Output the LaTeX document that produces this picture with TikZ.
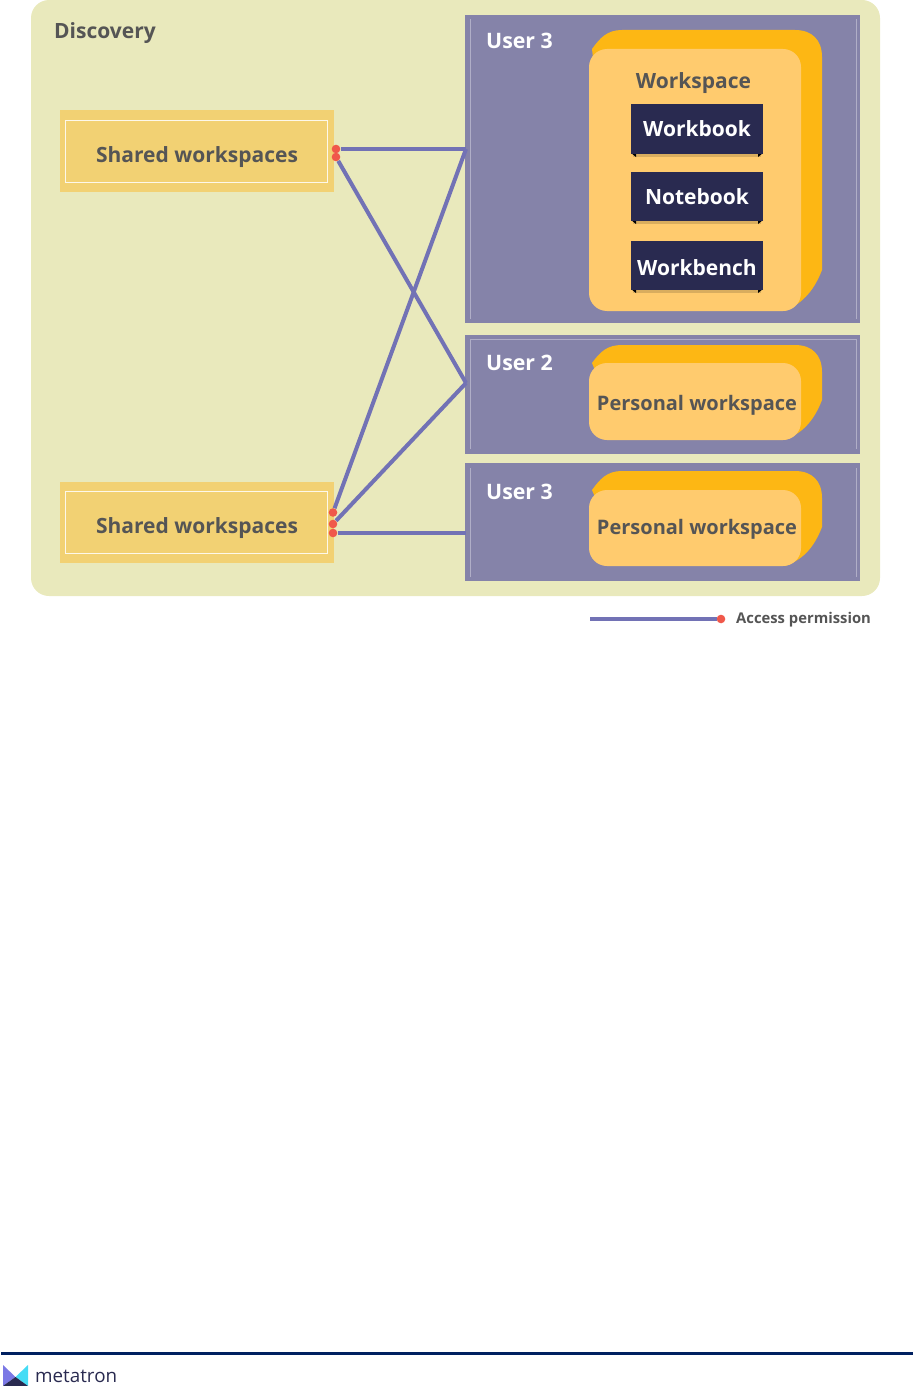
\documentclass[tikz,border=0pt]{standalone}
\usepackage{fontspec}
\setmainfont{Open Sans}
\usetikzlibrary{positioning,calc}
\definecolor{discoverybg}{HTML}{E9E9BC}
\definecolor{sharedbg}{HTML}{F2D173}
\definecolor{userbg}{HTML}{8583A9}
\definecolor{backbg}{HTML}{FDB714}
\definecolor{frontbg}{HTML}{FFCB6E}
\definecolor{itembg}{HTML}{292A50}
\definecolor{linkcol}{HTML}{7272B5}
\definecolor{dotcol}{HTML}{F0584A}
\definecolor{labelcol}{HTML}{555555}
\definecolor{rulecol}{HTML}{002060}
\definecolor{logoleft}{HTML}{7B78E5}
\definecolor{logoright}{HTML}{45DCF5}

\begin{document}
\begin{tikzpicture}[x=1pt, y=-1pt,
          boldtxt/.style={inner sep=0pt, text=labelcol, font=\fontsize{21}{25}\selectfont\bfseries},
          sharedbox/.style={fill=sharedbg, minimum width=274pt, minimum height=81pt, inner sep=0pt},
          userbox/.style={fill=userbg, minimum width=395pt, inner sep=0pt},
          itembox/.style={fill=itembg, minimum width=132pt, inner sep=0pt, text=white, font=\fontsize{21}{25}\selectfont\bfseries},
          frontbox/.style={fill=frontbg, rounded corners=18pt, minimum width=212pt, inner sep=0pt},
          userlabel/.style={text=white, anchor=west, inner sep=0pt, font=\fontsize{21.3}{25}\selectfont\bfseries},
          trim/.style={white!35!userbg, line width=0.8pt},
          sharedtrim/.style={white!85!sharedbg, line width=1pt},
          link/.style={draw=linkcol, line width=4pt},
          dot/.style={circle, fill=dotcol, minimum size=8.6pt, inner sep=0pt}]
        \useasboundingbox (0,0) rectangle (913,1386);
        % background
        \node[fill=discoverybg, rounded corners=18pt, minimum width=849pt, minimum height=596pt, inner sep=0pt] (discovery) at (455.5,298) {};
        \node[boldtxt, anchor=west] (discoverytxt) at (54,33) {Discovery};
        % shared workspaces
        \node[sharedbox] (shareda) at (197,151) {};
        \node[sharedbox] (sharedb) at (197,522.5) {};
        \draw[sharedtrim] (65.5,120.5) rectangle (327.5,182);
        \draw[sharedtrim] (65.5,491) rectangle (327.5,553);
        \node[boldtxt] (sharedatxt) at (197,157.5) {Shared workspaces};
        \node[boldtxt] (sharedbtxt) at (197,528.5) {Shared workspaces};
        % users
        \node[userbox, minimum height=308pt] (usera) at (662.5,169) {};
        \node[userbox, minimum height=119pt] (userb) at (662.5,394.5) {};
        \node[userbox, minimum height=118pt] (userc) at (662.5,522) {};
        \foreach \t/\b in {19/319, 339/449, 468/577} {
          \draw[trim] (470,\b) -- (470,\t);
          \draw[trim] (856,\b) -- (856,\t);
        }
        \draw[trim] (470,339) -- (856,339);
        \node[userlabel] (useratxt) at (486,41) {User 3};
        \node[userlabel] (userbtxt) at (486,363) {User 2};
        \node[userlabel] (userctxt) at (486,492) {User 3};
        % workspace stacks
        \fill[backbg] (592,49) .. controls (600,38) and (607,30) .. (622,30) -- (795,30) .. controls (812,30) and (822,40) .. (822,57) -- (822,270) .. controls (815,288) and (805,302) .. (785,311) -- (620,300) -- cycle;
        \fill[backbg] (592,363) .. controls (600,352) and (607,345) .. (622,345) -- (795,345) .. controls (812,345) and (822,355) .. (822,372) -- (822,400) .. controls (815,418) and (805,432) .. (785,440) -- (620,430) -- cycle;
        \fill[backbg] (592,490) .. controls (600,479) and (607,471) .. (622,471) -- (795,471) .. controls (812,471) and (822,481) .. (822,498) -- (822,527) .. controls (815,545) and (805,559) .. (785,566) -- (620,556) -- cycle;
        \node[frontbox, minimum height=262pt] (worka) at (695,180) {};
        \node[frontbox, minimum height=77pt] (workb) at (695,401.5) {};
        \node[frontbox, minimum height=76pt] (workc) at (695,528) {};
        \node[boldtxt] (workatxt) at (693.5,83.5) {Workspace};
        \node[boldtxt, font=\fontsize{20}{24}\selectfont\bfseries] (workbtxt) at (697,405.5) {Personal workspace};
        \node[boldtxt, font=\fontsize{20}{24}\selectfont\bfseries] (workctxt) at (697,529.5) {Personal workspace};
        % items
        \foreach \n/\y/\h/\d/\s in {workbook/129/50/0/Workbook, notebook/196.5/49/0/Notebook, workbench/265.5/49/20/Workbench} {
          \fill[black!15!frontbg] (633,\y+\h/2) rectangle (761,\y+\h/2+2.5);
          \fill[black] (631,\y+\h/2-1) -- (636,\y+\h/2-1) -- (636,\y+\h/2+3) -- cycle;
          \fill[black] (763,\y+\h/2-1) -- (758,\y+\h/2-1) -- (758,\y+\h/2+3) -- cycle;
          \node[itembox, minimum height=\h pt] (\n) at (697,\y) {\rule{0pt}{\d pt}\s};
        }
        % access links
        \node[dot] (dota) at (336,149) {};
        \node[dot] (dotb) at (336,157) {};
        \node[dot] (dotc) at (333,512.5) {};
        \node[dot] (dotd) at (333,524) {};
        \node[dot] (dote) at (333,533) {};
        \coordinate (portu) at (466,149);
        \coordinate (portv) at (466,383);
        \coordinate (portw) at (466,533);
        \draw[link] (dota) -- (portu);
        \draw[link] (dotb) -- (portv);
        \draw[link] (dotc) -- (portu);
        \draw[link] (dotd) -- (portv);
        \draw[link, line width=3.4pt] (dote) -- (portw);
        % legend
        \node[dot] (legdot) at (721,619) {};
        \coordinate (legstart) at (590,619);
        \draw[link] (legstart) -- (legdot);
        \node[boldtxt, anchor=west, font=\fontsize{14.8}{18}\selectfont\bfseries] (legtxt) at (736,619.5) {Access permission};
        % footer
        \fill[rulecol] (1,1352) rectangle (913,1355);
        \fill[logoleft] (3,1365) -- (15.5,1377) -- (3,1386) -- cycle;
        \fill[logoright] (28,1365) -- (15.5,1377) -- (28,1386) -- cycle;
        \fill[itembg] (3,1386) -- (15.5,1377) -- (28,1386) -- cycle;
        \node[anchor=west, inner sep=0pt, text=itembg, font=\fontsize{18.8}{20}\selectfont] (logotxt) at (35,1376.5) {metatron};
      \end{tikzpicture}
\end{document}
